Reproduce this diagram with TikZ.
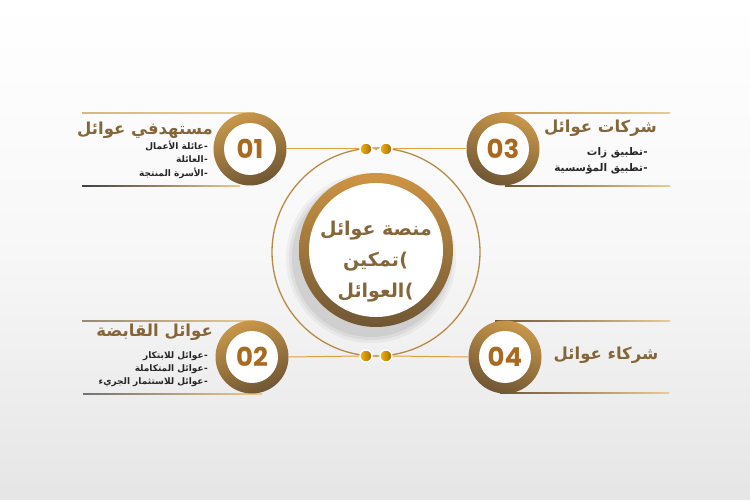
\documentclass[tikz,border=0pt]{standalone}
\usepackage{fontspec}
\setmainfont{DejaVu Sans}
\newfontfamily\arabicfont[Script=Arabic]{DejaVu Sans}
\newfontfamily\numfont{Poppins}
\TeXXeTstate=1
\usetikzlibrary{positioning}

\definecolor{awgold}{HTML}{C9974A}
\definecolor{awbrown}{HTML}{6F5634}
\definecolor{awtext}{HTML}{85663A}
\definecolor{awlight}{HTML}{EBCB90}
\definecolor{aworange}{HTML}{E0A040}
\definecolor{awnum}{HTML}{A9691E}
\definecolor{awdot}{HTML}{F2B705}
\definecolor{awdotdark}{HTML}{A9660F}

\begin{document}
\begin{tikzpicture}[x=1pt, y=-1pt,
  ring/.style={circle, minimum size=#1, inner sep=0pt, top color=awgold, bottom color=awbrown, shading angle=20},
  numdisc/.style={circle, fill=white, minimum size=52pt, inner sep=0pt, text=awnum, font=\numfont\bfseries\fontsize{26}{26}\selectfont},
  title/.style={text=awtext, inner sep=0pt, font=\arabicfont\bfseries\fontsize{16.5}{18}\selectfont},
  bullet/.style={text=black!85, inner sep=0pt, text height=8pt, text depth=3pt, font=\arabicfont\bfseries\fontsize{#1}{11}\selectfont},
  bullet/.default=9,
  midline/.style={text=awtext, inner sep=0pt, text height=15pt, text depth=6pt, font=\arabicfont\bfseries\fontsize{19}{22}\selectfont},
  link/.style={draw=aworange, line width=1pt},
  dot/.style={circle, draw=white, line width=1.3pt, left color=awdot, right color=awdotdark, minimum size=12pt, inner sep=0pt}
]
  % background
  \shade[top color=white, bottom color=black!10, middle color=white!97!black]
    (0,0) rectangle (750,500);
  \useasboundingbox (0,0) rectangle (750,500);

  % big circle and middle
  \draw[awgold!80!awbrown, line width=1.3pt] (376,252) circle[radius=104];
  \fill[black, opacity=0.04] (371,258) circle[radius=85];
  \fill[black, opacity=0.05] (371,258) circle[radius=82];
  \fill[black, opacity=0.06] (371,258) circle[radius=79];
  \node[ring=154pt, top color=awgold!90!orange, bottom color=awbrown] (midring) at (376,250) {};
  \node[circle, fill=white, minimum size=134pt, inner sep=0pt] (mid) at (midring) {};
  \node[midline] (mid1) at (376,231) {\beginR منصة عوائل\endR};
  \node[midline] (mid2) at (371,262) {\beginR تمكين\endR};
  \node[midline, right=0pt of mid2] (paren2) {)};
  \node[midline] (mid3) at (371,293) {\beginR العوائل\endR};
  \node[midline, right=0pt of mid3] (paren3) {)};

  % dots
  \node[dot] (dotTL) at (366,149) {};
  \node[dot] (dotTR) at (386,149) {};
  \path (dotTL) -- (dotTR) coordinate[midway] (dotT);
  \fill[aworange] (dotT) circle[radius=1.3];
  \node[dot] (dotBL) at (366,356) {};
  \node[dot] (dotBR) at (386,356) {};
  \path (dotBL) -- (dotBR) coordinate[midway] (dotB);
  \fill[aworange] (dotB) circle[radius=1.3];

  % 01
  \shade[left color=awgold!70, right color=awlight] (82,112.4) rectangle (255,113.6);
  \shade[left color=black!75, right color=awlight] (82,185.4) rectangle (240,186.6);
  \node[ring=73pt] (r1) at (250,149) {};
  \node[numdisc] (n1) at (r1) {01};
  \node[title, anchor=east] (t1) at (213,130) {\beginR مستهدفي عوائل\endR};
  \node[bullet, anchor=east] (d1a) at (208,147) {-};
  \node[bullet, left=0pt of d1a] (b1a) {\beginR عائلة الأعمال\endR};
  \node[bullet, anchor=east] (d1b) at (208,160) {-};
  \node[bullet, left=0pt of d1b] (b1b) {\beginR العائلة\endR};
  \node[bullet, anchor=east] (d1c) at (208,174) {-};
  \node[bullet, left=0pt of d1c] (b1c) {\beginR الأسرة المنتجة\endR};

  % 03
  \shade[left color=awgold, right color=awlight] (500,112.4) rectangle (670,113.6);
  \shade[left color=awbrown, right color=awlight] (505,185.4) rectangle (670,186.6);
  \node[ring=73pt, shading angle=-20] (r3) at (503,149) {};
  \node[numdisc] (n3) at (r3) {03};
  \node[title, anchor=east] (t3) at (657,128) {\beginR شركات عوائل\endR};
  \node[bullet=10.5, anchor=east] (d3a) at (648,153) {-};
  \node[bullet=10.5, left=0pt of d3a] (b3a) {\beginR تطبيق زات\endR};
  \node[bullet=10.5, anchor=east] (d3b) at (648,169) {-};
  \node[bullet=10.5, left=0pt of d3b] (b3b) {\beginR تطبيق المؤسسية\endR};

  % 02
  \shade[left color=awbrown!70, right color=awlight] (82,320.4) rectangle (255,321.6);
  \shade[left color=black!55, right color=awlight] (83,393.4) rectangle (262,394.6);
  \node[ring=73pt] (r2) at (252,357) {};
  \node[numdisc] (n2) at (r2) {02};
  \node[title, anchor=east] (t2) at (213,332) {\beginR عوائل القابضة\endR};
  \node[bullet, anchor=east] (d2a) at (208,356) {-};
  \node[bullet, left=0pt of d2a] (b2a) {\beginR عوائل للابتكار\endR};
  \node[bullet, anchor=east] (d2b) at (208,369) {-};
  \node[bullet, left=0pt of d2b] (b2b) {\beginR عوائل المتكاملة\endR};
  \node[bullet, anchor=east] (d2c) at (208,382) {-};
  \node[bullet, left=0pt of d2c] (b2c) {\beginR عوائل للاستثمار الجريء\endR};

  % 04
  \shade[left color=awbrown, right color=awlight] (495,320.4) rectangle (670,321.6);
  \shade[left color=awbrown, right color=awlight] (500,392.4) rectangle (669,393.6);
  \node[ring=73pt, shading angle=-20] (r4) at (505,357) {};
  \node[numdisc] (n4) at (r4) {04};
  \node[title] (t4) at (606,355) {\beginR شركاء عوائل\endR};

  % links
  \draw[link] (r1.east) -- (dotTL.west);
  \draw[link] (dotTR.east) -- (r3.west);
  \draw[link] (r2.east) -- (dotBL.west);
  \draw[link] (dotBR.east) -- (r4.west);
\end{tikzpicture}
\end{document}
